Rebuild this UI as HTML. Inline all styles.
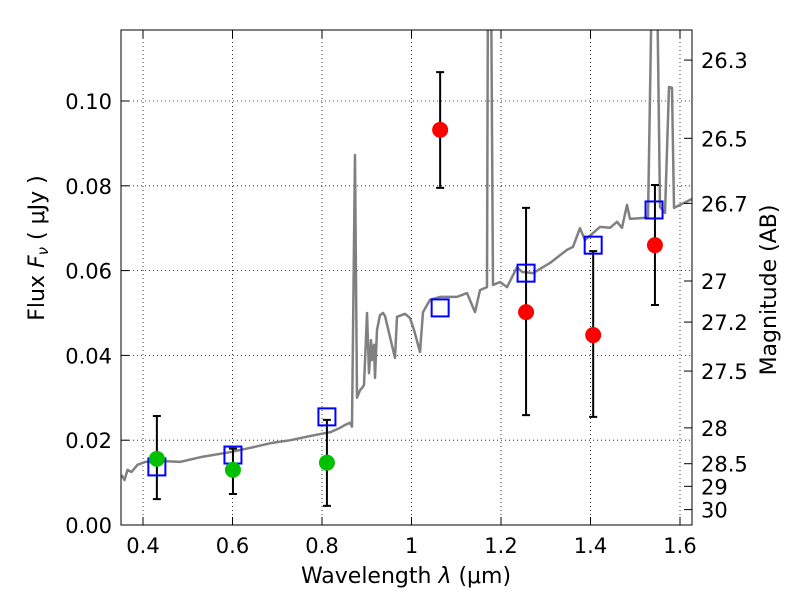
<!DOCTYPE html>
<html><head><meta charset="utf-8"><style>
body{margin:0;background:#fff}
svg text{font-family:"DejaVu Sans","Liberation Sans",sans-serif;fill:#000}
</style></head><body>
<svg id="chart" width="800" height="600" viewBox="0 0 800 600" xmlns="http://www.w3.org/2000/svg" xml:space="preserve">
<defs><clipPath id="clip"><rect x="121" y="30" width="571" height="495"/></clipPath></defs>
<rect x="0" y="0" width="800" height="600" fill="#fff"/>
<g id="grid"></g>
<g id="spec" clip-path="url(#clip)"></g>
<g id="marks" clip-path="url(#clip)"></g>
<rect x="121" y="30" width="571" height="495" fill="none" stroke="#000" stroke-width="1"/>
<g id="axes"></g>
<text x="406" y="583" text-anchor="middle" font-size="22">Wavelength  <tspan font-style="italic">λ</tspan> (μm)</text>
<text transform="translate(44,248) rotate(-90)" text-anchor="middle" font-size="22">Flux  <tspan font-style="italic">F</tspan><tspan font-style="italic" font-size="15" dy="4">ν</tspan><tspan dy="-4">  (  μJy )</tspan></text>
<text transform="translate(776,290) rotate(-90)" text-anchor="middle" font-size="22">Magnitude (AB)</text>
</svg>
<script>
const specW=[0.3520,0.3587,0.3654,0.3743,0.3877,0.4056,0.4391,0.4838,0.5285,0.5955,0.6402,0.6849,0.7296,0.7743,0.8190,0.8402,0.8514,0.8626,0.8670,0.8737,0.8782,0.8849,0.8894,0.8939,0.9006,0.9050,0.9095,0.9117,0.9162,0.9184,0.9229,0.9296,0.9363,0.9408,0.9631,0.9676,0.9855,0.9966,1.0056,1.0190,1.0257,1.0413,1.0637,1.1017,1.1240,1.1419,1.1531,1.1687,1.1709,1.1777,1.1821,1.1978,1.2134,1.2358,1.2469,1.2715,1.3095,1.3475,1.3609,1.3765,1.3877,1.4212,1.4436,1.4592,1.4704,1.4816,1.4883,1.5173,1.5285,1.5374,1.5486,1.5553,1.5665,1.5754,1.5821,1.5866,1.6000,1.6268];
const specF=[0.0118,0.0106,0.0130,0.0125,0.0142,0.0149,0.0151,0.0149,0.0160,0.0172,0.0182,0.0193,0.0200,0.0210,0.0219,0.0229,0.0236,0.0241,0.0232,0.0873,0.0300,0.0318,0.0323,0.0330,0.0500,0.0358,0.0436,0.0389,0.0425,0.0347,0.0460,0.0495,0.0500,0.0493,0.0394,0.0491,0.0498,0.0488,0.0460,0.0408,0.0502,0.0531,0.0538,0.0538,0.0547,0.0502,0.0554,0.0561,0.1300,0.1300,0.0566,0.0573,0.0561,0.0608,0.0597,0.0594,0.0618,0.0649,0.0656,0.0700,0.0672,0.0703,0.0701,0.0715,0.0701,0.0755,0.0722,0.0724,0.0726,0.1300,0.1300,0.0750,0.0736,0.1033,0.1031,0.0748,0.0755,0.0769];
const circW=[0.431,0.601,0.811,1.064,1.256,1.406,1.544];
const circF=[0.0156,0.0130,0.0147,0.0932,0.0502,0.0448,0.0660];
const errHi=[0.0257,0.0180,0.0248,0.1068,0.0748,0.0646,0.0802];
const errLo=[0.0061,0.0073,0.0045,0.0795,0.0259,0.0255,0.0519];
const circColor=['#00c000','#00c000','#00c000','#ff0000','#ff0000','#ff0000','#ff0000'];
const sqW=[0.431,0.601,0.811,1.064,1.256,1.406,1.542];
const sqF=[0.0137,0.0165,0.0255,0.0512,0.0594,0.0660,0.0743];
const xTicks=[0.4,0.6,0.8,1.0,1.2,1.4,1.6];
const xLabels=['0.4','0.6','0.8','1','1.2','1.4','1.6'];
const yTicks=[0,0.02,0.04,0.06,0.08,0.10];
const yLabels=['0.00','0.02','0.04','0.06','0.08','0.10'];
const magTicks=[26.3,26.5,26.7,27,27.2,27.5,28,28.5,29,30];
const magLabels=['26.3','26.5','26.7','27','27.2','27.5','28','28.5','29','30'];

const NS='http://www.w3.org/2000/svg';
const X=v=>411.5+(v-1)*447.5;
const Y=f=>525-f*4240;
function mk(tag,attrs,parent){const e=document.createElementNS(NS,tag);for(const k in attrs)e.setAttribute(k,attrs[k]);parent.appendChild(e);return e;}
const grid=document.getElementById('grid'),axes=document.getElementById('axes'),spec=document.getElementById('spec'),marks=document.getElementById('marks');

xTicks.forEach((v,i)=>{
  const g=mk('line',{x1:X(v),x2:X(v),y1:30,y2:525,stroke:'#000','stroke-width':0.8,'stroke-dasharray':'1,3'},grid);
  
  
  mk('line',{x1:X(v),x2:X(v),y1:525,y2:517,stroke:'#000'},axes);
  mk('line',{x1:X(v),x2:X(v),y1:30,y2:38,stroke:'#000'},axes);
  const t=mk('text',{x:X(v),y:553,'text-anchor':'middle','font-size':21},axes);
  t.textContent=xLabels[i];
  
  
});
yTicks.forEach((v,i)=>{
  if(v>0){const g=mk('line',{x1:121,x2:692,y1:Y(v),y2:Y(v),stroke:'#000','stroke-width':0.8,'stroke-dasharray':'1,3'},grid);
  
  }
  mk('line',{x1:121,x2:129,y1:Y(v),y2:Y(v),stroke:'#000'},axes);
  const t=mk('text',{x:112,y:Y(v)+8,'text-anchor':'end','font-size':21},axes);
  t.textContent=yLabels[i];
  
  
});
magTicks.forEach((m,i)=>{
  const y=Y(Math.pow(10,(23.9-m)/2.5));
  mk('line',{x1:684,x2:692,y1:y,y2:y,stroke:'#000'},axes);
  const t=mk('text',{x:701,y:y+8,'font-size':21},axes);
  t.textContent=magLabels[i];
  
  
});
const p=mk('polyline',{points:specW.map((w,i)=>X(w)+','+Y(specF[i])).join(' '),fill:'none',stroke:'#808080','stroke-width':2.5,'stroke-linejoin':'round'},spec);


circW.forEach((w,i)=>{
  const x=X(w);
  const eb=mk('path',{d:`M${x},${Y(errHi[i])}V${Y(errLo[i])}M${x-4},${Y(errHi[i])}H${x+4}M${x-4},${Y(errLo[i])}H${x+4}`,stroke:'#000','stroke-width':2,fill:'none'},marks);
  
  
});
sqW.forEach((w,i)=>{
  const r=mk('rect',{x:X(w)-8.5,y:Y(sqF[i])-8.5,width:17,height:17,fill:'none',stroke:'#0000ff','stroke-width':2},marks);
  
  
});
circW.forEach((w,i)=>{
  const c=mk('circle',{cx:X(w),cy:Y(circF[i]),r:8,fill:circColor[i]},marks);
  
  
});
</script>
</body></html>
